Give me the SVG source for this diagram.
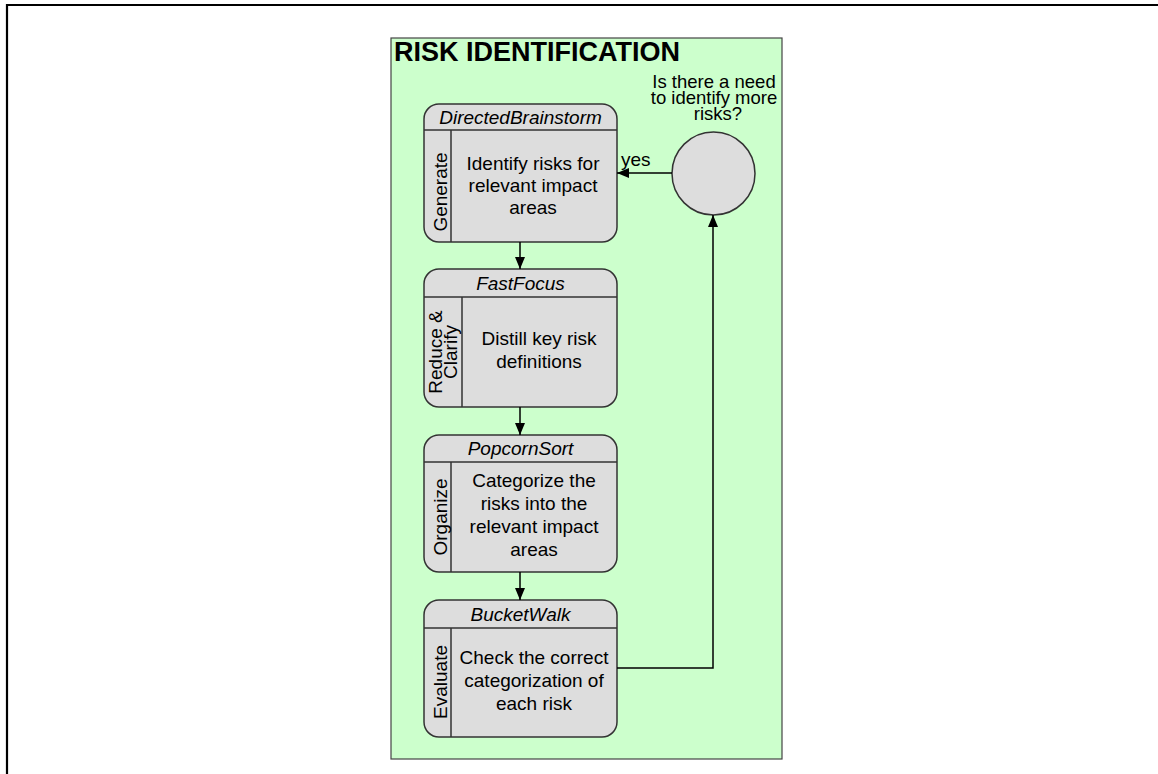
<svg xmlns="http://www.w3.org/2000/svg" width="1158" height="774" viewBox="0 0 1158 774">
<style>
text{font-family:"Liberation Sans",Arial,sans-serif;fill:#000;}
.box{fill:#dddddd;stroke:#333;stroke-width:1.5;}
.sep{stroke:#333;stroke-width:1.5;fill:none;}
.hdr{font-size:19px;font-style:italic;text-anchor:middle;}
.body{font-size:19px;text-anchor:middle;}
.q{font-size:18.5px;text-anchor:middle;}
.side{font-size:19px;text-anchor:middle;}
.conn{stroke:#000;stroke-width:1.5;fill:none;marker-end:url(#ah);}
</style>
<defs>
<marker id="ah" viewBox="0 0 12 10" refX="12" refY="5" markerWidth="12" markerHeight="10" markerUnits="userSpaceOnUse" orient="auto">
<path d="M0,0 L12,5 L0,10 Z" fill="#000"/>
</marker>
</defs>
<rect width="1158" height="774" fill="#fff"/>
<path d="M7,774 V5 H1158" fill="none" stroke="#000" stroke-width="2.2"/>
<g id="container">
<rect x="391" y="38" width="391" height="721" fill="#ccffcc" stroke="#444" stroke-width="1.2"/>
<text x="394" y="61" font-size="27" font-weight="bold">RISK IDENTIFICATION</text>
</g>
<g id="decision">
<circle cx="713.5" cy="173.5" r="41.5" fill="#dddddd" stroke="#333" stroke-width="1.5"/>
<text class="q" x="714" y="88">Is there a need</text>
<text class="q" x="714" y="104">to identify more</text>
<text class="q" x="718" y="120">risks?</text>
</g>
<g id="directedbrainstorm">
<rect class="box" x="424" y="104" width="193" height="138" rx="15"/>
<path class="sep" d="M424,130 H617 M451,130 V242"/>
<text class="hdr" x="520.5" y="124">DirectedBrainstorm</text>
<text class="side" transform="translate(447,192) rotate(-90)">Generate</text>
<text class="body" x="533" y="170">Identify risks for</text>
<text class="body" x="533" y="192">relevant impact</text>
<text class="body" x="533" y="214">areas</text>
</g>
<g id="fastfocus">
<rect class="box" x="424" y="269" width="193" height="138" rx="15"/>
<path class="sep" d="M424,297 H617 M462,297 V407"/>
<text class="hdr" x="520.5" y="290">FastFocus</text>
<text class="side" transform="translate(442,352) rotate(-90)">Reduce &amp;</text>
<text class="side" transform="translate(456.5,352) rotate(-90)">Clarify</text>
<text class="body" x="539" y="345">Distill key risk</text>
<text class="body" x="539" y="368">definitions</text>
</g>
<g id="popcornsort">
<rect class="box" x="424" y="435" width="193" height="137" rx="15"/>
<path class="sep" d="M424,462 H617 M451,462 V572"/>
<text class="hdr" x="520.5" y="455">PopcornSort</text>
<text class="side" transform="translate(447,517) rotate(-90)">Organize</text>
<text class="body" x="534" y="487">Categorize the</text>
<text class="body" x="534" y="510">risks into the</text>
<text class="body" x="534" y="533">relevant impact</text>
<text class="body" x="534" y="556">areas</text>
</g>
<g id="bucketwalk">
<rect class="box" x="424" y="600" width="193" height="137" rx="15"/>
<path class="sep" d="M424,628 H617 M451,628 V737"/>
<text class="hdr" x="520.5" y="621">BucketWalk</text>
<text class="side" transform="translate(447,682) rotate(-90)">Evaluate</text>
<text class="body" x="534" y="664">Check the correct</text>
<text class="body" x="534" y="687">categorization of</text>
<text class="body" x="534" y="710">each risk</text>
</g>
<g id="connectors">
<path class="conn" d="M520,242 V269"/>
<path class="conn" d="M520,407 V435"/>
<path class="conn" d="M520,572 V600"/>
<path class="conn" d="M617,668 H713 V215"/>
<path class="conn" d="M672,173 H617"/>
<text x="621" y="166" font-size="19">yes</text>
</g>
</svg>
